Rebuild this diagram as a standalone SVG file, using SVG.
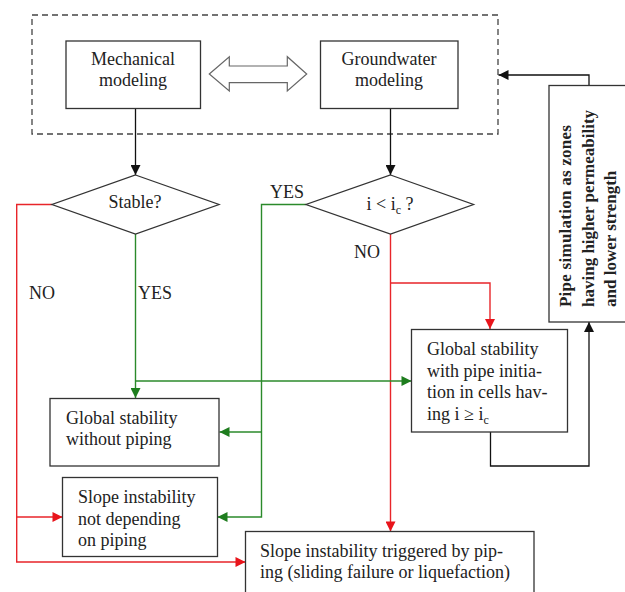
<svg xmlns="http://www.w3.org/2000/svg" width="625" height="592" viewBox="0 0 625 592">
<style>
  .box { fill: #fff; stroke: #333; stroke-width: 1.3; }
  text { font-family: 'Liberation Serif', 'Times New Roman', 'DejaVu Serif', Times, serif; font-size: 18px; fill: #222; }
  .tc { text-anchor: middle; }
  .tb { font-size: 17px; font-weight: bold; }
  .blk { fill: none; stroke: #111; stroke-width: 1.3; }
  .red { fill: none; stroke: #e8252a; stroke-width: 1.4; }
  .grn { fill: none; stroke: #2b8a2b; stroke-width: 1.4; }
</style>
<defs>
  <marker id="ak" viewBox="0 0 10 10" refX="10" refY="5" markerWidth="11" markerHeight="10" orient="auto" markerUnits="userSpaceOnUse"><path d="M0,0 L10,5 L0,10 z" fill="#111"/></marker>
  <marker id="ar" viewBox="0 0 10 10" refX="10" refY="5" markerWidth="11" markerHeight="10" orient="auto" markerUnits="userSpaceOnUse"><path d="M0,0 L10,5 L0,10 z" fill="#e8141b"/></marker>
  <marker id="ag" viewBox="0 0 10 10" refX="10" refY="5" markerWidth="11" markerHeight="10" orient="auto" markerUnits="userSpaceOnUse"><path d="M0,0 L10,5 L0,10 z" fill="#1e7d1e"/></marker>
</defs>
<rect width="625" height="592" fill="#fff"/>

<g id="coupling-frame">
  <rect x="32" y="15" width="466" height="119" fill="none" stroke="#444" stroke-width="1.3" stroke-dasharray="6,4"/>
</g>

<g id="connectors">
  <path class="blk" d="M135.5,108 V175" marker-end="url(#ak)"/>
  <path class="blk" d="M390.5,108 V175" marker-end="url(#ak)"/>
  <path class="blk" d="M589,86 V75 H498.5" marker-end="url(#ak)"/>
  <path class="blk" d="M490.5,432 V466 H589 V322" marker-end="url(#ak)"/>
  <path class="red" d="M52,204.5 H16.7 V562 H245.5" marker-end="url(#ar)"/>
  <path class="red" d="M16.7,517 H62.5" marker-end="url(#ar)"/>
  <path class="red" d="M390.5,234 V531.5" marker-end="url(#ar)"/>
  <path class="red" d="M390.5,283 H490 V329" marker-end="url(#ar)"/>
  <path class="grn" d="M135.5,234 V398" marker-end="url(#ag)"/>
  <path class="grn" d="M135.5,381 H411.5" marker-end="url(#ag)"/>
  <path class="grn" d="M306,204.5 H261.5 V517 H217.5" marker-end="url(#ag)"/>
  <path class="grn" d="M261.5,432 H219.5" marker-end="url(#ag)"/>
  <path d="M209.3,74 L229.3,56.7 V66 H287.3 V56.7 L306.7,74 L287.3,91 V82.7 H229.3 V91 Z" fill="#fff" stroke="#666" stroke-width="1.2"/>
</g>

<g id="mechanical">
  <rect class="box" x="66" y="41" width="134.5" height="67.5"/>
  <text class="tc" x="133" y="64.5">Mechanical</text>
  <text class="tc" x="133" y="86">modeling</text>
</g>

<g id="groundwater">
  <rect class="box" x="320.5" y="41" width="137.5" height="67.5"/>
  <text class="tc" x="389" y="64.5">Groundwater</text>
  <text class="tc" x="389" y="86">modeling</text>
</g>

<g id="stable">
  <polygon class="box" points="135.5,175 219,204.5 135.5,234 52,204.5"/>
  <text class="tc" x="135" y="208">Stable?</text>
  <text class="tc" x="42" y="299">NO</text>
  <text class="tc" x="155" y="299">YES</text>
</g>

<g id="gradient-check">
  <polygon class="box" points="390.5,175 473.5,204.5 390.5,234 306,204.5"/>
  <text class="tc" x="390" y="210">i &lt; i<tspan font-size="12" dy="4">c</tspan><tspan dy="-4"> ?</tspan></text>
  <text class="tc" x="287" y="197.5">YES</text>
  <text class="tc" x="367" y="257.5">NO</text>
</g>

<g id="pipe-simulation">
  <rect class="box" x="549" y="85.5" width="90" height="236.5"/>
  <text class="tb" transform="translate(571,307) rotate(-90)" textLength="182" lengthAdjust="spacing">Pipe simulation as zones</text>
  <text class="tb" transform="translate(593.5,307) rotate(-90)">having higher permeability</text>
  <text class="tb" transform="translate(616,307) rotate(-90)">and lower strength</text>
</g>

<g id="global-pipe">
  <rect class="box" x="411.5" y="329.5" width="156" height="102.5"/>
  <text x="427" y="355">Global stability</text>
  <text x="427" y="376.5">with pipe initia-</text>
  <text x="427" y="397.5">tion in cells hav-</text>
  <text x="427" y="420">ing i ≥ i<tspan font-size="12" dy="4">c</tspan></text>
</g>

<g id="global-no-pipe">
  <rect class="box" x="50" y="398.5" width="169" height="67.5"/>
  <text x="66" y="424">Global stability</text>
  <text x="66" y="444.5">without piping</text>
</g>

<g id="slope-not-piping">
  <rect class="box" x="62.5" y="477.5" width="155" height="79"/>
  <text x="78" y="503">Slope instability</text>
  <text x="78" y="524.5">not depending</text>
  <text x="78" y="546">on piping</text>
</g>

<g id="slope-triggered">
  <rect class="box" x="245.5" y="531.5" width="288.5" height="70"/>
  <text x="260" y="557">Slope instability triggered by pip-</text>
  <text x="260" y="577.5">ing (sliding failure or liquefaction)</text>
</g>
</svg>
